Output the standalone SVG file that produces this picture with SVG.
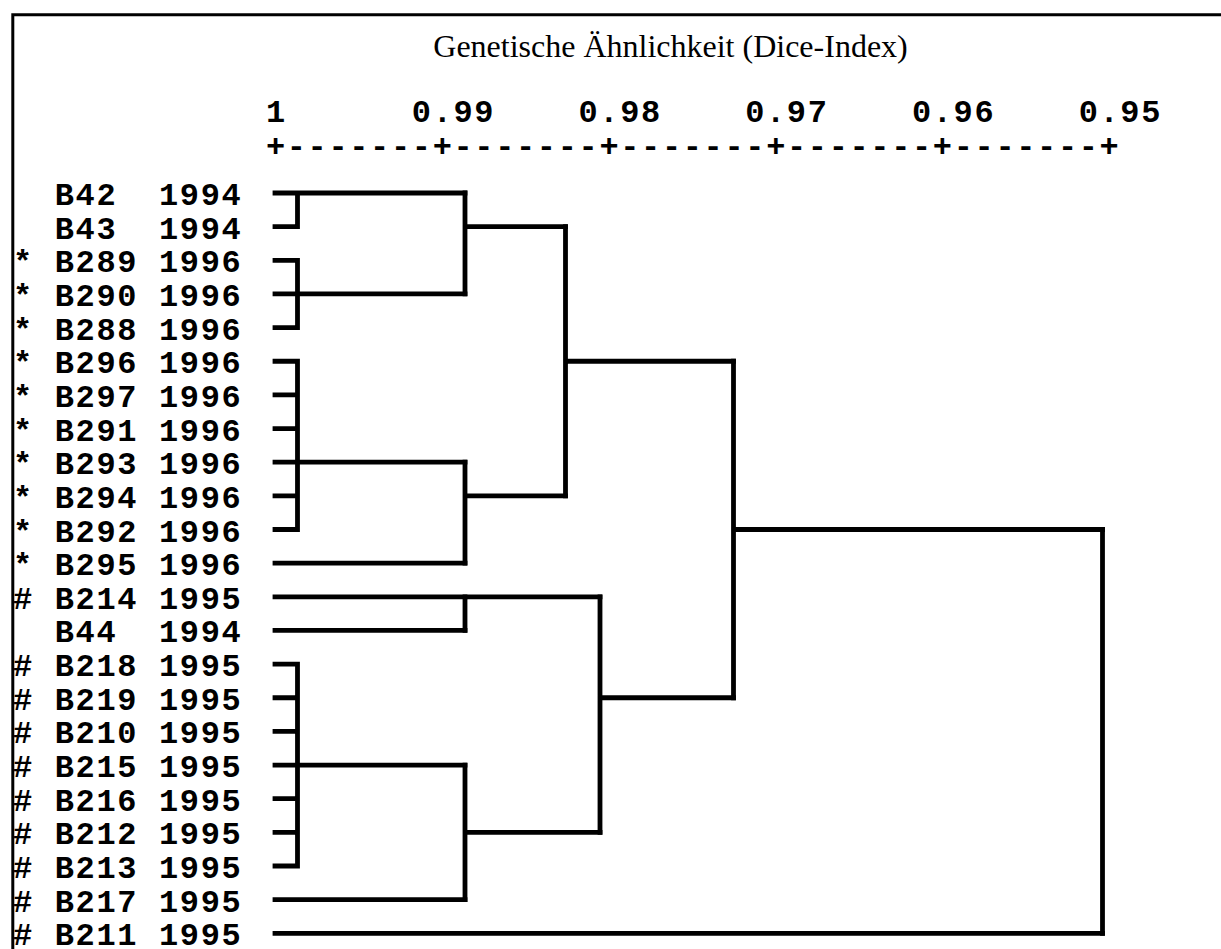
<svg xmlns="http://www.w3.org/2000/svg" width="1221" height="949" viewBox="0 0 1221 949">
<style>
.lbl{font-family:"Liberation Mono","Courier New",monospace;font-weight:bold;font-size:32px;letter-spacing:1.64px;fill:#000}
.title{font-family:"Liberation Serif","Times New Roman",serif;font-size:32px;fill:#000}
.ln{fill:none;stroke:#000;stroke-width:4.8;stroke-linecap:square;stroke-linejoin:miter}
.frame{fill:none;stroke:#000;stroke-width:3}
</style>
<rect width="1221" height="949" fill="#fff"/>
<path class="frame" d="M12.8 949 V14.7 H1221"/>
<g id="title"><text class="title" x="670.5" y="56.7" text-anchor="middle">Genetische Ähnlichkeit (Dice-Index)</text></g>
<g id="axis">
<text class="lbl" x="265.9" y="121.7">1</text>
<text class="lbl" x="411.8" y="121.7">0.99</text>
<text class="lbl" x="578.5" y="121.7">0.98</text>
<text class="lbl" x="745.2" y="121.7">0.97</text>
<text class="lbl" x="911.9" y="121.7">0.96</text>
<text class="lbl" x="1078.7" y="121.7">0.95</text>
<text class="lbl" x="265.9" y="156">+-------+-------+-------+-------+-------+</text>
</g>
<g id="leaves">
<g id="leaf-B42"><text class="lbl" xml:space="preserve" x="13.1" y="205">  B42  1994</text></g>
<g id="leaf-B43"><text class="lbl" xml:space="preserve" x="13.1" y="238.65">  B43  1994</text></g>
<g id="leaf-B289"><text class="lbl" xml:space="preserve" x="13.1" y="272.3">* B289 1996</text></g>
<g id="leaf-B290"><text class="lbl" xml:space="preserve" x="13.1" y="305.95">* B290 1996</text></g>
<g id="leaf-B288"><text class="lbl" xml:space="preserve" x="13.1" y="339.6">* B288 1996</text></g>
<g id="leaf-B296"><text class="lbl" xml:space="preserve" x="13.1" y="373.25">* B296 1996</text></g>
<g id="leaf-B297"><text class="lbl" xml:space="preserve" x="13.1" y="406.9">* B297 1996</text></g>
<g id="leaf-B291"><text class="lbl" xml:space="preserve" x="13.1" y="440.55">* B291 1996</text></g>
<g id="leaf-B293"><text class="lbl" xml:space="preserve" x="13.1" y="474.2">* B293 1996</text></g>
<g id="leaf-B294"><text class="lbl" xml:space="preserve" x="13.1" y="507.85">* B294 1996</text></g>
<g id="leaf-B292"><text class="lbl" xml:space="preserve" x="13.1" y="541.5">* B292 1996</text></g>
<g id="leaf-B295"><text class="lbl" xml:space="preserve" x="13.1" y="575.15">* B295 1996</text></g>
<g id="leaf-B214"><text class="lbl" xml:space="preserve" x="13.1" y="608.8"># B214 1995</text></g>
<g id="leaf-B44"><text class="lbl" xml:space="preserve" x="13.1" y="642.45">  B44  1994</text></g>
<g id="leaf-B218"><text class="lbl" xml:space="preserve" x="13.1" y="676.1"># B218 1995</text></g>
<g id="leaf-B219"><text class="lbl" xml:space="preserve" x="13.1" y="709.75"># B219 1995</text></g>
<g id="leaf-B210"><text class="lbl" xml:space="preserve" x="13.1" y="743.4"># B210 1995</text></g>
<g id="leaf-B215"><text class="lbl" xml:space="preserve" x="13.1" y="777.05"># B215 1995</text></g>
<g id="leaf-B216"><text class="lbl" xml:space="preserve" x="13.1" y="810.7"># B216 1995</text></g>
<g id="leaf-B212"><text class="lbl" xml:space="preserve" x="13.1" y="844.35"># B212 1995</text></g>
<g id="leaf-B213"><text class="lbl" xml:space="preserve" x="13.1" y="878"># B213 1995</text></g>
<g id="leaf-B217"><text class="lbl" xml:space="preserve" x="13.1" y="911.65"># B217 1995</text></g>
<g id="leaf-B211"><text class="lbl" xml:space="preserve" x="13.1" y="945.3"># B211 1995</text></g>
</g>
<g id="connectors">
<path class="ln" d="M275 193 H297.5 M275 226.65 H297.5 M297.5 193 V226.65 M297.5 193 H465"/>
<path class="ln" d="M275 260.3 H297.5 M275 293.95 H297.5 M275 327.6 H297.5 M297.5 260.3 V327.6 M297.5 293.95 H465"/>
<path class="ln" d="M275 361.25 H297.5 M275 394.9 H297.5 M275 428.55 H297.5 M275 462.2 H297.5 M275 495.85 H297.5 M275 529.5 H297.5 M297.5 361.25 V529.5 M297.5 462.2 H465"/>
<path class="ln" d="M275 563.15 H465 M275 596.8 H465 M275 630.45 H465 M275 899.65 H465 M275 933.3 H1102.5"/>
<path class="ln" d="M275 664.1 H297.5 M275 697.75 H297.5 M275 731.4 H297.5 M275 765.05 H297.5 M275 798.7 H297.5 M275 832.35 H297.5 M275 866 H297.5 M297.5 664.1 V866 M297.5 765.05 H465"/>
<path class="ln" d="M465 193 V293.95 M465 226.65 H565.5"/>
<path class="ln" d="M465 462.2 V563.15 M465 495.85 H565.5"/>
<path class="ln" d="M565.5 226.65 V495.85 M565.5 361.25 H733.5"/>
<path class="ln" d="M465 596.8 V630.45 M465 596.8 H600"/>
<path class="ln" d="M465 765.05 V899.65 M465 832.35 H600"/>
<path class="ln" d="M600 596.8 V832.35 M600 697.75 H733.5"/>
<path class="ln" d="M733.5 361.25 V697.75 M733.5 529.5 H1102.5"/>
<path class="ln" d="M1102.5 529.5 V933.3"/>
</g>
</svg>
